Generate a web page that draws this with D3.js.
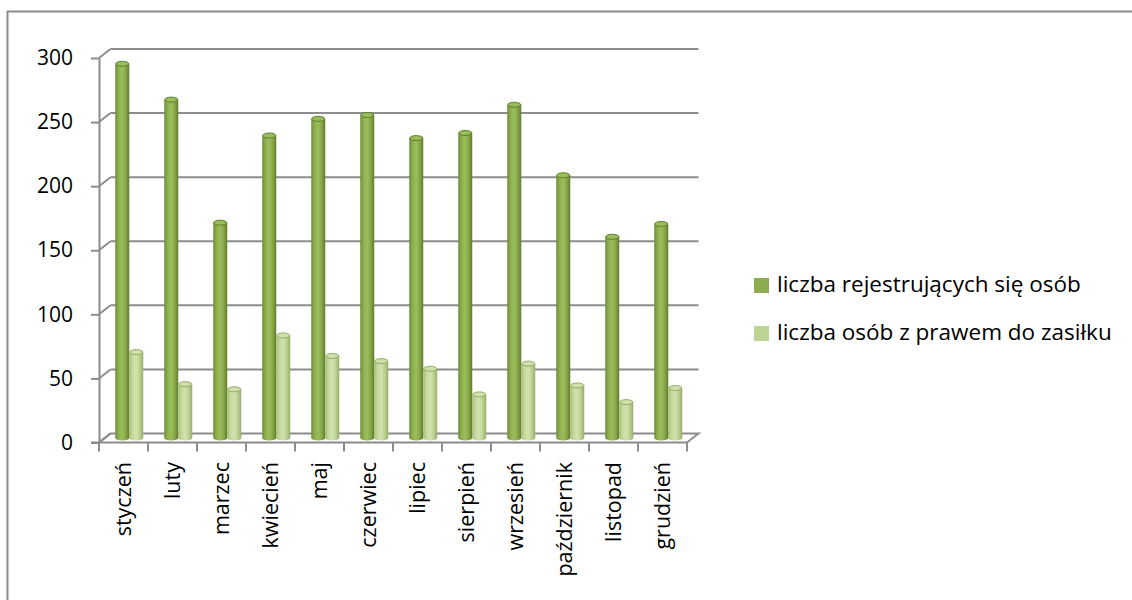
<!DOCTYPE html>
<html>
<head>
<meta charset="utf-8">
<script src="https://cdn.jsdelivr.net/npm/d3@7"></script>
<style>
  body { margin: 0; background: #fff; }
  svg text { font-family: "Open Sans", "Noto Sans", sans-serif; fill: #000; }
</style>
</head>
<body>
<svg id="chart" width="1132" height="600"></svg>
<script>
// chart data
var months = ["styczeń", "luty", "marzec", "kwiecień", "maj", "czerwiec",
              "lipiec", "sierpień", "wrzesień", "październik", "listopad", "grudzień"];
var seriesNames = ["liczba rejestrujących się osób", "liczba osób z prawem do zasiłku"];
var rejestrujacy = [292, 264, 168, 236, 249, 252, 234, 238, 260, 205, 157, 167];
var zasilek = [67, 42, 38, 80, 64, 60, 54, 34, 58, 41, 28, 39];
var yTicks = [0, 50, 100, 150, 200, 250, 300];

var svg = d3.select("#chart");

// 3d depth offset of the back wall
var depthX = 11.5, depthY = -9;

var x = d3.scaleBand().domain(months).range([99, 687]);
var y = d3.scaleLinear().domain([0, 300]).range([442.5, 58]);
var inner = d3.scaleBand().domain([0, 1]).range([0, x.bandwidth()]).paddingOuter(0.75);

var axisColor = "#8c8c8c";

// outer frame (cut off at right and bottom)
svg.append("rect")
    .attr("x", 7.5).attr("y", 11.5)
    .attr("width", 1140).attr("height", 620)
    .attr("fill", "none").attr("stroke", "#8a8a8a").attr("stroke-width", 2);

// gradients for the cylinders
var defs = svg.append("defs");
var grads = [
  {id: "g0", stops: ["#6c8c37", "#8fb24f", "#9bbd5c", "#86a747", "#5e7b2c"]},
  {id: "g1", stops: ["#a6bd78", "#c7da9f", "#d2e3ad", "#bdd191", "#96ad69"]}
];
grads.forEach(function(g) {
  var lg = defs.append("linearGradient").attr("id", g.id)
      .attr("x1", "0%").attr("x2", "100%").attr("y1", "0%").attr("y2", "0%");
  g.stops.forEach(function(c, i) {
    lg.append("stop").attr("offset", (i / (g.stops.length - 1) * 100) + "%").attr("stop-color", c);
  });
});
var capFill = ["#9abd5b", "#cfe0a9"];
var capStroke = ["#5f7c2e", "#93aa66"];

// back wall gridlines with the little diagonal joints
var grid = svg.append("g").attr("class", "grid");
grid.selectAll("line.back")
    .data(yTicks.slice(1))
  .enter().append("line")
    .attr("class", "back")
    .attr("x1", x.range()[0] + depthX).attr("x2", x.range()[1] + depthX)
    .attr("y1", function(d) { return y(d) + depthY; })
    .attr("y2", function(d) { return y(d) + depthY; })
    .attr("stroke", axisColor).attr("stroke-width", 2);
grid.selectAll("line.diag")
    .data(yTicks)
  .enter().append("line")
    .attr("class", "diag")
    .attr("x1", x.range()[0]).attr("x2", x.range()[0] + depthX)
    .attr("y1", function(d) { return y(d); })
    .attr("y2", function(d) { return y(d) + depthY; })
    .attr("stroke", axisColor).attr("stroke-width", 2);

// floor outline
svg.append("path")
    .attr("d", "M" + x.range()[0] + "," + y(0) +
               "L" + (x.range()[0] + depthX) + "," + (y(0) + depthY) +
               "L" + (x.range()[1] + depthX) + "," + (y(0) + depthY) +
               "L" + x.range()[1] + "," + y(0))
    .attr("fill", "none").attr("stroke", axisColor).attr("stroke-width", 2);

// y axis on the front edge
var yAxis = svg.append("g")
    .attr("transform", "translate(" + x.range()[0] + ",0)")
    .call(d3.axisLeft(y).tickValues(yTicks).tickSize(8).tickPadding(18).tickSizeOuter(0));
yAxis.select(".domain").attr("stroke", axisColor).attr("stroke-width", 2);
yAxis.selectAll(".tick line").attr("stroke", axisColor).attr("stroke-width", 2);
yAxis.selectAll(".tick text")
    .style("font-size", "21px").style("font-family", "'Open Sans', sans-serif")
    .attr("fill", "#000");

// x axis: line, boundary ticks, rotated labels
var xAxis = svg.append("g").attr("class", "x-axis");
xAxis.append("line")
    .attr("x1", x.range()[0] - 8).attr("x2", x.range()[1])
    .attr("y1", y(0)).attr("y2", y(0))
    .attr("stroke", axisColor).attr("stroke-width", 2);
xAxis.selectAll("line.tick")
    .data(months.map(function(m) { return x(m); }).concat([x.range()[1]]))
  .enter().append("line")
    .attr("class", "tick")
    .attr("x1", function(d) { return d; }).attr("x2", function(d) { return d; })
    .attr("y1", y(0)).attr("y2", y(0) + 9)
    .attr("stroke", axisColor).attr("stroke-width", 2);
xAxis.selectAll("text")
    .data(months)
  .enter().append("text")
    .attr("transform", function(d) {
      return "translate(" + (x(d) + x.bandwidth() / 2) + "," + 462 + ") rotate(-90)";
    })
    .attr("dy", "0.35em")
    .attr("text-anchor", "end")
    .style("font-size", "21.5px")
    .text(function(d) { return d; });

// cylinders
var rx = inner.bandwidth() / 2, ry = 2.5;
var series = [rejestrujacy, zasilek];
var barsG = svg.append("g").attr("class", "bars");

series.forEach(function(vals, si) {
  var g = barsG.append("g");
  var bar = g.selectAll("g.bar")
      .data(vals)
    .enter().append("g")
      .attr("class", "bar");

  bar.append("path")
      .attr("d", function(d, i) {
        var x0 = x(months[i]) + inner(si) + depthX / 2;
        var yt = y(d) + depthY / 2, yb = y(0) + depthY / 2;
        return "M" + x0 + "," + yt + "L" + x0 + "," + yb +
               "A" + rx + "," + ry + " 0 0 0 " + (x0 + 2 * rx) + "," + yb +
               "L" + (x0 + 2 * rx) + "," + yt + "Z";
      })
      .attr("fill", "url(#g" + si + ")");

  bar.append("ellipse")
      .attr("cx", function(d, i) { return x(months[i]) + inner(si) + depthX / 2 + rx; })
      .attr("cy", function(d) { return y(d) + depthY / 2; })
      .attr("rx", rx - 0.5).attr("ry", ry)
      .attr("fill", capFill[si])
      .attr("stroke", capStroke[si]).attr("stroke-width", 1);
});

// legend
var legend = svg.append("g").attr("class", "legend");
var legendItem = legend.selectAll("g")
    .data(seriesNames)
  .enter().append("g")
    .attr("transform", function(d, i) { return "translate(754," + (278 + i * 48) + ")"; });
legendItem.append("rect")
    .attr("width", 15).attr("height", 15)
    .attr("fill", function(d, i) { return i === 0 ? "#8cac4e" : "#bed495"; });
legendItem.append("text")
    .attr("x", 23).attr("y", 14)
    .style("font-size", "22.5px")
    .text(function(d) { return d; });
</script>
</body>
</html>
